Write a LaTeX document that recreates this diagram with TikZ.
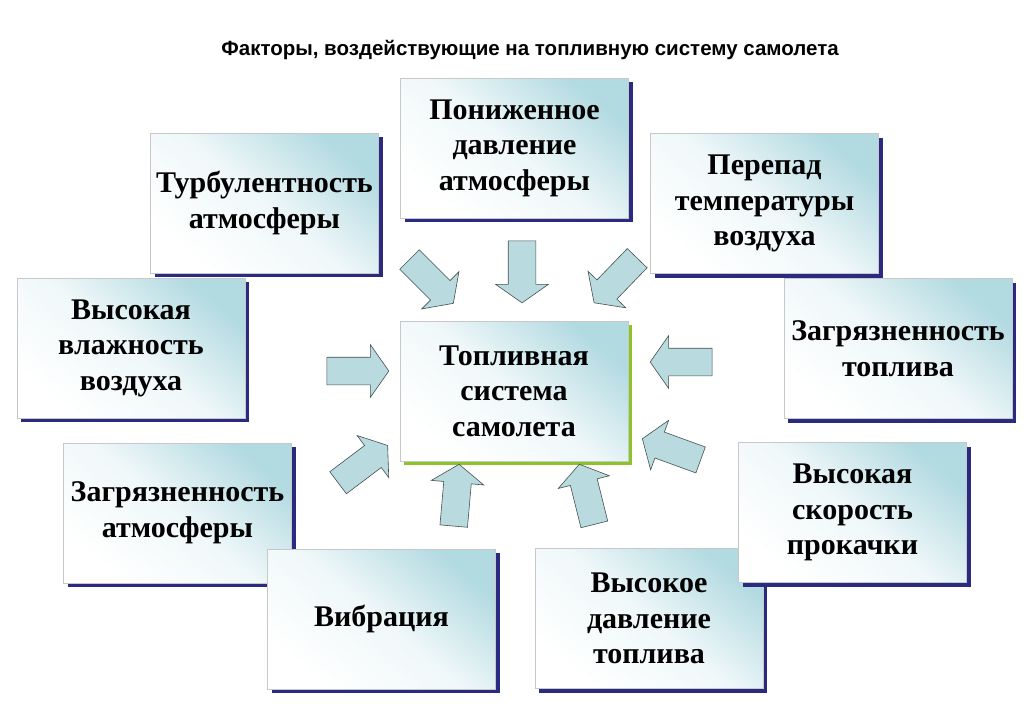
\documentclass[tikz,border=0pt]{standalone}
\usepackage{fontspec}
\setmainfont{Liberation Serif}
\newfontfamily\titlefont{Liberation Sans}
\usepackage{tikz}
\usetikzlibrary{shapes.arrows,shadows}
\definecolor{boxshadow}{RGB}{42,42,128}
\definecolor{hubshadow}{RGB}{140,195,40}
\definecolor{boxtint}{RGB}{178,218,225}
\definecolor{boxline}{RGB}{200,200,200}
\definecolor{arrowfill}{RGB}{185,218,222}
\definecolor{arrowline}{RGB}{70,80,80}
\tikzstyle{panel} = [rectangle, draw=boxline, line width=0.8pt,
    top color=boxtint, bottom color=white, middle color=boxtint!20, shading angle=-40,
    minimum width=228pt, minimum height=140pt, align=center,
    font=\fontsize{30}{35.5}\selectfont\bfseries]
\tikzstyle{factor} = [panel, drop shadow={shadow xshift=4pt, shadow yshift=-4pt, fill=boxshadow, opacity=1}]
\tikzstyle{hub} = [panel, drop shadow={shadow xshift=4pt, shadow yshift=-4pt, fill=hubshadow, opacity=1}]
\tikzstyle{push} = [single arrow, draw=arrowline, fill=arrowfill, line width=0.6pt,
    minimum height=62pt, inner xsep=0pt, inner ysep=13.5pt, single arrow head extend=12.5pt,
    single arrow tip angle=110]

\begin{document}
\begin{tikzpicture}[x=1pt, y=-1pt]
    \useasboundingbox (0,0) rectangle (1024,723);
    % Title
    \node [font=\titlefont\bfseries\fontsize{20.5}{24}\selectfont] (title) at (530,50)
        {Факторы, воздействующие на топливную систему самолета};
    % Place nodes
    \node [hub] (fuel) at (514,391) {Топливная\\система\\самолета};
    \node [factor] (lowp) at (514.5,148) {Пониженное\\давление\\атмосферы};
    \node [factor] (turb) at (264.5,203) {Турбулентность\\атмосферы};
    \node [factor] (temp) at (764.5,203.5) {Перепад\\температуры\\воздуха};
    \node [factor] (humid) at (131,348) {Высокая\\влажность\\воздуха};
    \node [factor] (dirtfuel) at (898,348.5) {Загрязненность\\топлива};
    \node [factor] (dirtair) at (177.5,513) {Загрязненность\\атмосферы};
    \node [factor] (vibr) at (381.5,619) {Вибрация};
    \node [factor] (press) at (649,618.5) {Высокое\\давление\\топлива};
    \node [factor] (pump) at (852.5,512.5) {Высокая\\скорость\\прокачки};
    % Draw arrows
    \node [push, rotate=-90] (a1) at (522,267) {};
    \node [push, rotate=-45] (a2) at (428,278) {};
    \node [push, rotate=-134] (a3) at (619,277) {};
    \node [push, rotate=0] (a4) at (353,371) {};
    \node [push, rotate=180] (a5) at (686,362) {};
    \node [push, rotate=37] (a6) at (359,467) {};
    \node [push, rotate=160] (a7) at (676,451) {};
    \node [push, rotate=85] (a8) at (456,500) {};
    \node [push, rotate=104] (a9) at (588,499) {};
\end{tikzpicture}
\end{document}
